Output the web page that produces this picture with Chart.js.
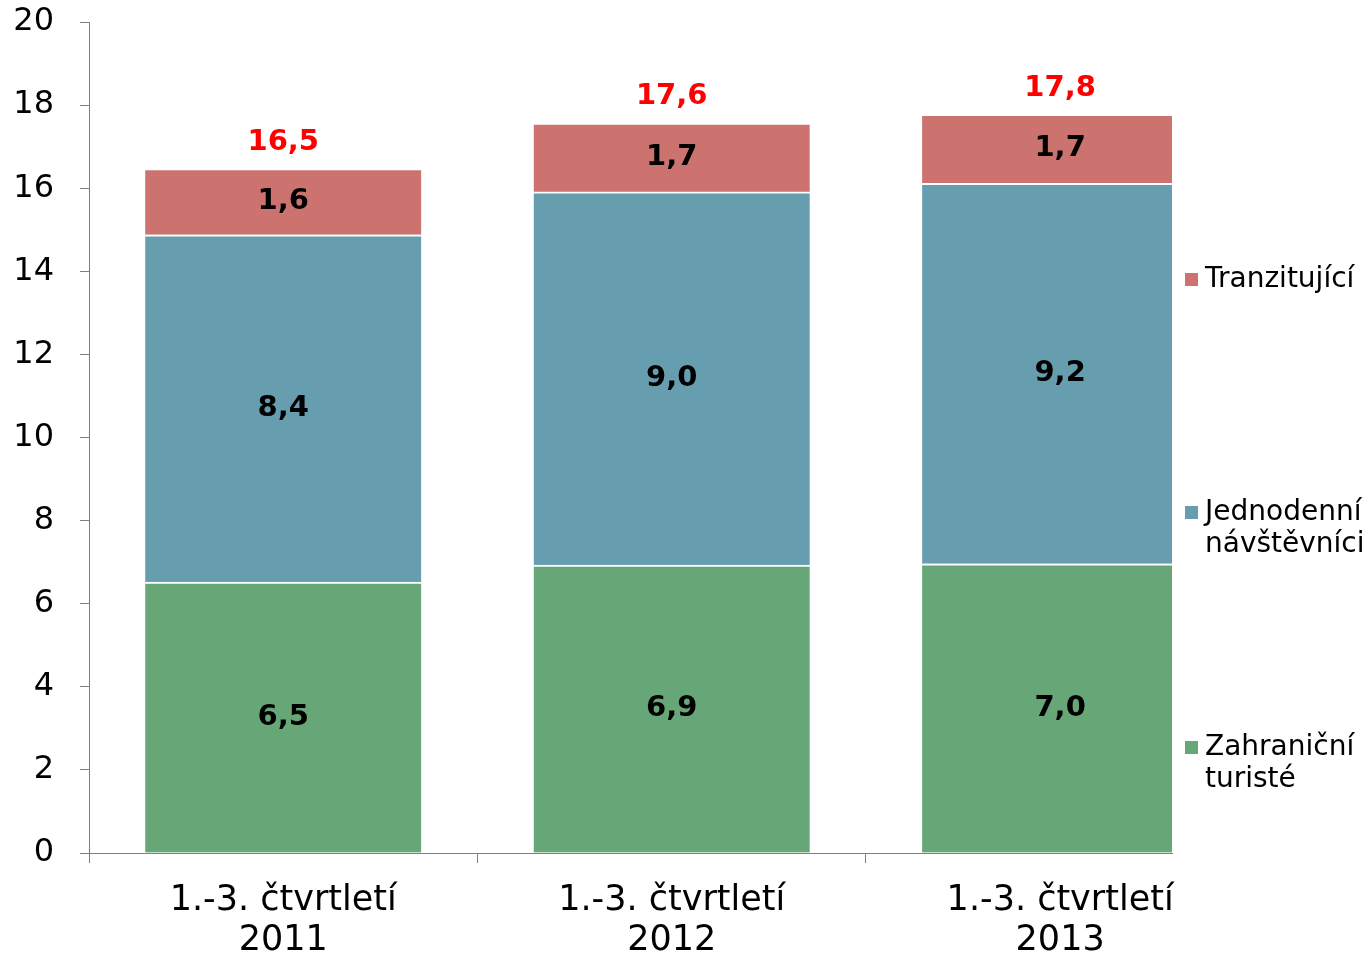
<!DOCTYPE html>
<html lang="cs">
<head>
<meta charset="UTF-8">
<title>Návštěvníci 1.-3. čtvrtletí</title>
<script src="https://cdn.jsdelivr.net/npm/chart.js"></script>
<style>
    html, body { margin: 0; padding: 0; background: #ffffff; }
    #obal { width: 1366px; height: 957px; }
</style>
</head>
<body>
<div id="obal"><canvas id="graf" width="1366" height="957"></canvas></div>
<script>
    // Data (mil.)
    const kategorie = [['1.-3. čtvrtletí', '2011'], ['1.-3. čtvrtletí', '2012'], ['1.-3. čtvrtletí', '2013']];
    const zahranicni = [6.52, 6.93, 6.96];
    const jednodenni = [8.36, 8.98, 9.16];
    const tranzitujici = [1.59, 1.66, 1.66];
    const nazvy = ['Zahraniční turisté', 'Jednodenní návštěvníci', 'Tranzitující'];
    const legendaRadky = [['Zahraniční', 'turisté'], ['Jednodenní', 'návštěvníci'], ['Tranzitující']];
    const barvy = ['#67a777', '#679eaf', '#cc7370'];
    const xTicky = [-0.5, 0, 0.5, 1, 1.5, 2];

    const soucty = zahranicni.map((v, i) => v + jednodenni[i] + tranzitujici[i]);
    const cislo = v => v.toFixed(1).replace('.', ',');
    const body = arr => arr.map((v, i) => ({ x: i, y: v }));

    // popisky hodnot a součty
    const popisky = {
        id: 'popisky',
        afterDatasetsDraw(chart) {
            const ctx = chart.ctx;
            ctx.save();
            ctx.font = 'bold 29px "DejaVu Sans"';
            ctx.textAlign = 'center';
            ctx.textBaseline = 'middle';
            ctx.fillStyle = '#000000';
            chart.data.datasets.forEach((ds, i) => {
                chart.getDatasetMeta(i).data.forEach((bar, j) => {
                    ctx.fillText(cislo(ds.data[j].y), bar.x, (bar.y + bar.base) / 2);
                });
            });
            const vrch = chart.getDatasetMeta(chart.data.datasets.length - 1).data;
            ctx.fillStyle = '#ff0000';
            vrch.forEach((bar, j) => ctx.fillText(cislo(soucty[j]), bar.x, bar.y - 26));
            ctx.restore();
        }
    };

    // legenda vpravo
    const legenda = {
        id: 'legenda',
        afterDraw(chart) {
            const ctx = chart.ctx;
            const pozice = [748, 513, 280];
            ctx.save();
            ctx.font = '28px "DejaVu Sans"';
            ctx.textAlign = 'left';
            ctx.textBaseline = 'middle';
            for (let i = 2; i >= 0; i--) {
                const y = pozice[i];
                ctx.fillStyle = barvy[i];
                ctx.fillRect(1185, y - 7, 13, 13);
                ctx.fillStyle = '#000000';
                legendaRadky[i].forEach((t, k) => ctx.fillText(t, 1205, y + k * 32));
            }
            ctx.restore();
        }
    };

    const sada = (data, i) => ({
        label: nazvy[i],
        data: body(data),
        backgroundColor: barvy[i],
        borderColor: '#ffffff',
        borderWidth: { top: 2, right: 0, bottom: 0, left: 0 },
        borderSkipped: false,
        barThickness: 276,
        clip: 0
    });

    new Chart(document.getElementById('graf').getContext('2d'), {
        type: 'bar',
        data: {
            datasets: [sada(zahranicni, 0), sada(jednodenni, 1), sada(tranzitujici, 2)]
        },
        options: {
            responsive: false,
            animation: false,
            devicePixelRatio: 1,
            layout: { padding: { top: 0, right: 194, left: 0, bottom: 0 } },
            plugins: {
                legend: { display: false },
                tooltip: { enabled: false }
            },
            scales: {
                x: {
                    type: 'linear',
                    stacked: true,
                    offset: false,
                    min: -0.5,
                    max: 2.288,
                    afterBuildTicks: axis => { axis.ticks = xTicky.map(v => ({ value: v })); },
                    afterFit: axis => { axis.height = 104; },
                    grid: {
                        offset: false,
                        drawOnChartArea: false,
                        tickLength: 10,
                        color: c => (c.tick && Number.isInteger(c.tick.value)) ? 'rgba(0,0,0,0)' : '#7f7f7f'
                    },
                    border: { color: '#7f7f7f', width: 1 },
                    ticks: {
                        autoSkip: false,
                        maxRotation: 0,
                        minRotation: 0,
                        padding: 18,
                        color: '#000000',
                        font: { family: 'DejaVu Sans', size: 35, lineHeight: 1.14 },
                        callback: v => Number.isInteger(v) ? kategorie[v] : ''
                    }
                },
                y: {
                    stacked: true,
                    min: 0,
                    max: 20,
                    afterFit: axis => { axis.width = 89; axis.paddingTop = 22; },
                    grid: { drawOnChartArea: false, tickLength: 9, color: '#7f7f7f' },
                    border: { color: '#7f7f7f', width: 1 },
                    ticks: {
                        stepSize: 2,
                        padding: 26,
                        color: '#000000',
                        font: { family: 'DejaVu Sans', size: 32 }
                    }
                }
            }
        },
        plugins: [popisky, legenda]
    });
</script>
</body>
</html>
